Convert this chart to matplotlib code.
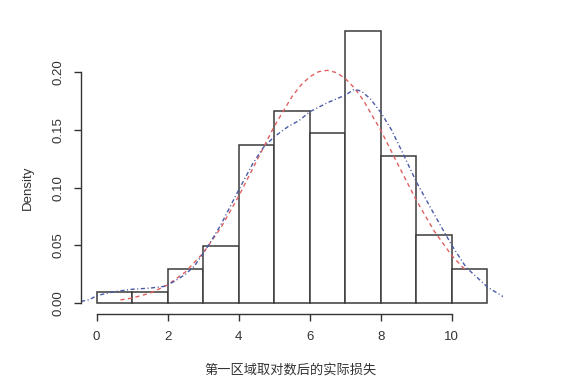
import numpy as np
import matplotlib
matplotlib.use('Agg')
import matplotlib.pyplot as plt

plt.rcParams['font.family'] = ['Liberation Sans', 'Noto Sans CJK SC', 'DejaVu Sans']

# histogram: unit-width bins 0..11, counts (n = 102)
bin_edges = list(range(0, 12))
counts = [1, 1, 3, 5, 14, 17, 15, 24, 13, 6, 3]

# red dashed curve (normal fit)
norm_x = [0.67, 1.0, 1.5, 2.0, 2.5, 3.0, 3.5, 4.0, 4.5, 5.0, 5.5, 5.75, 6.0, 6.25,
          6.5, 6.75, 7.0, 7.25, 7.5, 8.0, 8.5, 9.0, 9.5, 10.0, 10.37]
norm_y = [0.0028, 0.0044, 0.0086, 0.0158, 0.027, 0.0434, 0.0654, 0.0926, 0.1228,
          0.153, 0.1787, 0.1886, 0.1959, 0.2003, 0.2015, 0.1995, 0.1944, 0.1864,
          0.176, 0.1495, 0.119, 0.089, 0.0625, 0.0411, 0.029]

# blue dot-dash curve (kernel density)
kde_x = [-0.44, -0.2, 0.0, 0.5, 1.0, 1.5, 1.9, 2.2, 2.5, 2.75, 3.0, 3.25, 3.5, 3.75,
         4.0, 4.4, 4.7, 5.0, 5.4, 5.7, 6.0, 6.5, 7.0, 7.25, 7.45, 7.7, 8.0, 8.3,
         8.6, 9.0, 9.5, 10.0, 10.4, 11.0, 11.45]
kde_y = [0.0015, 0.003, 0.0065, 0.010, 0.012, 0.013, 0.0145, 0.019, 0.025, 0.032,
         0.043, 0.055, 0.068, 0.083, 0.098, 0.121, 0.135, 0.144, 0.153, 0.158,
         0.1656, 0.1735, 0.180, 0.185, 0.1835, 0.177, 0.165, 0.150, 0.131, 0.105,
         0.077, 0.050, 0.031, 0.014, 0.0055]

x_ticks = [0, 2, 4, 6, 8, 10]
y_ticks = [0.00, 0.05, 0.10, 0.15, 0.20]
y_tick_labels = ['0.00', '0.05', '0.10', '0.15', '0.20']
x_label = '第一区域取对数后的实际损失'
y_label = 'Density'

density = np.array(counts) / (np.sum(counts) * np.diff(bin_edges))

fig = plt.figure(figsize=(5.7, 3.84), dpi=100)
ax = fig.add_axes([81 / 570, 1 - 314 / 384, 422 / 570, 293.5 / 384])

ax.bar(bin_edges[:-1], density, width=np.diff(bin_edges), align='edge',
       facecolor='white', edgecolor='#3a3a3a', linewidth=1.1)
ax.plot(norm_x, norm_y, color='#e06060', linewidth=1.0, dashes=(3, 2.5))
ax.plot(kde_x, kde_y, color='#4a5aa8', linewidth=1.0, dashes=(3, 1.8, 0.8, 1.8))

ax.set_xlim(-0.44, 11.44)
ax.set_ylim(-0.0094, 0.2446)

for side in ['top', 'right']:
    ax.spines[side].set_visible(False)
ax.spines['left'].set_bounds(0, 0.20)
ax.spines['bottom'].set_bounds(0, 10)
for side in ['left', 'bottom']:
    ax.spines[side].set_color('#333333')
    ax.spines[side].set_linewidth(1.0)

ax.set_xticks(x_ticks)
ax.set_xticklabels([str(t) for t in x_ticks])
ax.set_yticks(y_ticks)
ax.set_yticklabels(y_tick_labels, rotation=90, va='center')
ax.tick_params(length=5, width=1.0, color='#333333', labelsize=9.5,
               labelcolor='#333333', pad=7)

fig.text(291 / 570, 1 - 370 / 384, x_label, ha='center', va='center',
         fontsize=9.5, color='#333333')
fig.text(28 / 570, 1 - 188 / 384, y_label, ha='center', va='center',
         rotation=90, fontsize=9.5, color='#333333')

fig.savefig('out.png', dpi=100)
